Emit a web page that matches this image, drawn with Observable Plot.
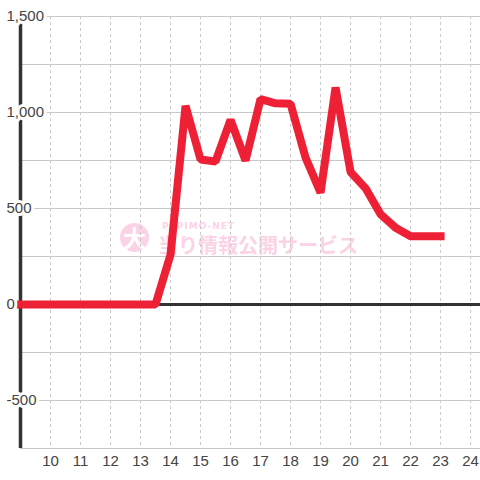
<!DOCTYPE html>
<html>
<head>
<meta charset="utf-8">
<script src="https://cdn.jsdelivr.net/npm/d3@7"></script>
<script src="https://cdn.jsdelivr.net/npm/@observablehq/plot@0.6"></script>
<style>
  html, body { margin: 0; padding: 0; background: #ffffff; }
  #wrap { position: relative; width: 480px; height: 480px; font-family: "Liberation Sans", Arial, sans-serif; }
  #wm { position: absolute; left: 0; top: 0; width: 480px; height: 480px; z-index: 0; pointer-events: none; }
  #chart { position: absolute; left: 0; top: 0; z-index: 1; }
</style>
</head>
<body>
<div id="wrap">
  <div id="wm">
    <div style="position:absolute;left:120px;top:223px;width:29px;height:29px;border-radius:50%;background:#fbd3e6;color:#fff;font:bold 23px 'Noto Sans CJK JP';line-height:29px;text-align:center;">大</div>
    <div style="position:absolute;left:162px;top:221px;color:#fbd3e6;font:bold 9px 'DejaVu Sans';line-height:10px;letter-spacing:1px;">PAPIMO-NET</div>
    <div style="position:absolute;left:158px;top:234px;color:#fbd3e6;font:bold 20px 'Noto Sans CJK JP';line-height:21px;white-space:nowrap;">当り情報公開サービス</div>
  </div>
  <div id="chart"></div>
</div>
<script>
const hours = [9, 9.5, 10, 10.5, 11, 11.5, 12, 12.5, 13, 13.5, 14, 14.5, 15, 15.5, 16, 16.5, 17, 17.5, 18, 18.5, 19, 19.5, 20, 20.5, 21, 21.5, 22, 22.5, 23];
const values = [0, 0, 0, 0, 0, 0, 0, 0, 0, 0, 260, 1035, 755, 745, 962, 750, 1070, 1048, 1045, 765, 583, 1130, 690, 605, 470, 400, 355, 355, 355];
const xTicks = [10, 11, 12, 13, 14, 15, 16, 17, 18, 19, 20, 21, 22, 23, 24];
const yTicks = [-500, 0, 500, 1000, 1500];
const yGrid = [-750, -500, -250, 250, 500, 750, 1000, 1250, 1500];

const data = hours.map((h, i) => ({ h, v: values[i] }));
const fmt = d => d3.format(",")(d).replace("\u2212", "-");

const chart = Plot.plot({
  width: 480,
  height: 480,
  marginLeft: 20,
  marginRight: 0,
  marginTop: 16,
  marginBottom: 32,
  style: { background: "transparent", fontFamily: "Liberation Sans, Arial, sans-serif" },
  x: { domain: [9, 24.33], axis: null, label: null },
  y: { domain: [-750, 1500], axis: null, label: null },
  marks: [
    Plot.ruleY(yGrid, { stroke: "#c8c8c8", strokeWidth: 1 }),
    Plot.ruleX(xTicks, { stroke: "#c8c8c8", strokeWidth: 1, strokeDasharray: "3,3" }),
    Plot.ruleY([0], { stroke: "#333333", strokeWidth: 3 }),
    Plot.ruleX([9], { stroke: "#333333", strokeWidth: 3.5 }),
    Plot.line(data, { x: "h", y: "v", stroke: "#ee2036", strokeWidth: 8, strokeLinejoin: "miter", strokeLinecap: "square" }),
    Plot.text(yTicks, { x: () => 9, y: d => d, text: d => fmt(d), textAnchor: "start", dx: -14, fill: "#444", stroke: "white", strokeWidth: 6, fontSize: 15 }),
    Plot.axisX(xTicks, { tickSize: 0, tickPadding: 7, fontSize: 15, color: "#444", label: null, tickFormat: d => String(d) })
  ]
});
document.getElementById("chart").appendChild(chart);
</script>
</body>
</html>
